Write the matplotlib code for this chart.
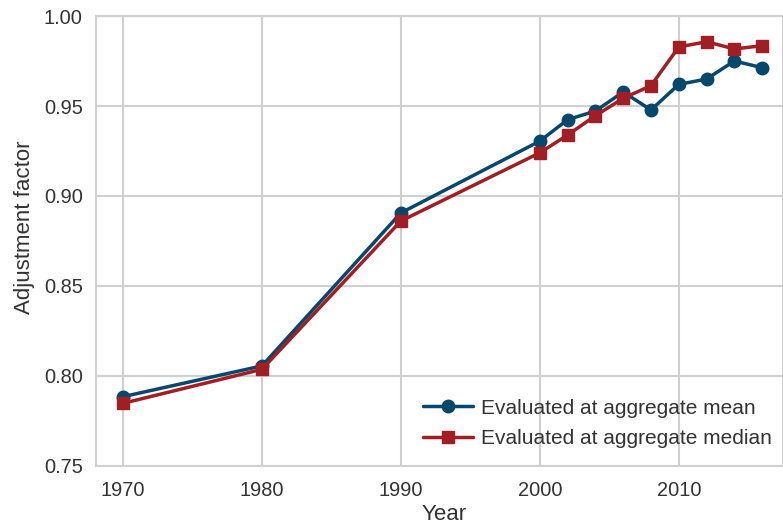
import matplotlib
matplotlib.use('Agg')
import matplotlib.pyplot as plt
import seaborn as sns

sns.set_style('whitegrid')
plt.rcParams['font.family'] = ['Liberation Sans', 'DejaVu Sans']

## DATA
years = [1970, 1980, 1990, 2000, 2002, 2004, 2006, 2008, 2010, 2012, 2014, 2016]
adj_mean = [0.7885, 0.8056, 0.8906, 0.9305, 0.9424, 0.9472, 0.9578, 0.9478, 0.9620, 0.9650, 0.9750, 0.9713]
adj_median = [0.7848, 0.8037, 0.8861, 0.9240, 0.9339, 0.9446, 0.9543, 0.9613, 0.9828, 0.9857, 0.9817, 0.9835]

blue = '#06476C'
red = '#A01E24'
grey_text = '#333333'

fig = plt.figure(figsize=(7.83, 5.30), dpi=100)
ax = fig.add_axes([0.1226, 0.1208, 0.8774, 0.849])

ax.plot(years, adj_mean, color=blue, marker='o', markersize=9, linewidth=2.5,
        label='Evaluated at aggregate mean')
ax.plot(years, adj_median, color=red, marker='s', markersize=9, linewidth=2.5,
        label='Evaluated at aggregate median')

ax.set_xlim(1968.06, 2017.5)
ax.set_ylim(0.75, 1.00)
ax.set_xticks([1970, 1980, 1990, 2000, 2010])
ax.set_yticks([0.75, 0.80, 0.85, 0.90, 0.95, 1.00])
ax.set_yticklabels([f'{v:.2f}' for v in [0.75, 0.80, 0.85, 0.90, 0.95, 1.00]])

ax.grid(True, color='#d0d0d0', linewidth=1.5)
for s in ax.spines.values():
    s.set_color('#d0d0d0')
    s.set_linewidth(1.5)

ax.tick_params(axis='y', labelsize=14.4, colors=grey_text, length=0, pad=9.5)
ax.tick_params(axis='x', labelsize=14.4, colors=grey_text, length=0, pad=10.5)
ax.set_xlabel('Year', fontsize=16, color=grey_text)
ax.set_ylabel('Adjustment factor', fontsize=16, color=grey_text)
ax.xaxis.set_label_coords(0.506, -0.084)
ax.yaxis.set_label_coords(-0.089, 0.531)

leg = ax.legend(loc='lower right', frameon=False, fontsize=15,
                bbox_to_anchor=(1.0116, -0.002), handlelength=2.4,
                handletextpad=0.4, labelspacing=0.55)
for t in leg.get_texts():
    t.set_color(grey_text)

fig.savefig('out.png', dpi=100)
